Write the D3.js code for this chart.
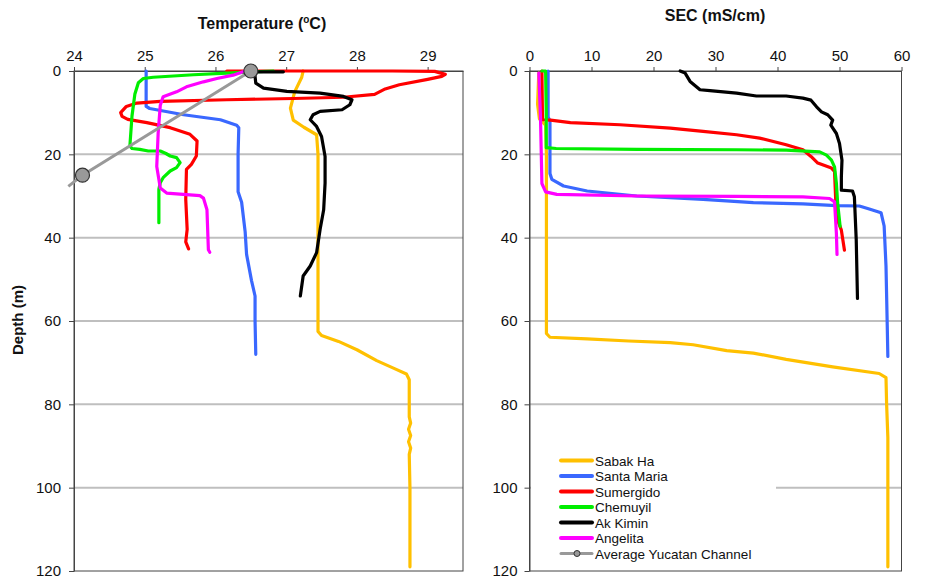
<!DOCTYPE html>
<html>
<head>
<meta charset="utf-8">
<script src="https://cdn.jsdelivr.net/npm/d3@7"></script>
<style>
  html, body { margin: 0; padding: 0; background: #fff; }
  svg { display: block; font-family: "Liberation Sans", Arial, sans-serif; }
</style>
</head>
<body>
<svg id="chart" width="925" height="578"></svg>
<script>
// ---------- DATA ----------
const seriesNames = ["Sabak Ha", "Santa Maria", "Sumergido", "Chemuyil", "Ak Kimin", "Angelita", "Average Yucatan Channel"];
const seriesColors = ["#FFC000", "#3A68FF", "#FF0000", "#00EE00", "#000000", "#FF00FF", "#999999"];

const tempTicks = [24, 25, 26, 27, 28, 29];
const secTicks = [0, 10, 20, 30, 40, 50, 60];
const depthTicks = [0, 20, 40, 60, 80, 100, 120];

// [temperature (°C), depth (m)]
const tempSabakHa = [[27.24,0],[27.22,1.5],[27.12,5],[27.06,8.9],[27.1,11.8],[27.25,13.5],[27.43,15.3],[27.45,20],[27.45,40],[27.45,62.5],[27.5,63.5],[27.74,64.9],[28.0,66.9],[28.28,69.5],[28.54,71.5],[28.7,72.7],[28.74,74.1],[28.74,83],[28.76,84.5],[28.73,86],[28.76,87.5],[28.73,89],[28.76,90.5],[28.74,92],[28.75,100],[28.75,119]];
const tempSantaMaria = [[25.02,0],[25.02,8.5],[25.07,9],[25.55,10.5],[26.07,11.7],[26.3,13],[26.33,13.6],[26.32,20],[26.32,29],[26.37,31.5],[26.42,38.6],[26.44,44],[26.51,50.3],[26.56,54],[26.56,60],[26.57,68]];
const tempSumergido = [[26.16,0],[27.5,0],[28.5,0],[29.1,0.1],[29.25,0.8],[29.2,1.3],[29.0,2],[28.6,3.3],[28.4,4.3],[28.25,5.6],[27.81,6.3],[27.1,6.6],[26.16,6.9],[25.22,7.3],[24.89,7.7],[24.74,8.5],[24.66,10],[24.68,10.9],[24.76,11.6],[25.03,12.4],[25.36,13.6],[25.64,15.2],[25.74,16.8],[25.73,20.4],[25.66,22.4],[25.59,23.6],[25.58,30.8],[25.6,38],[25.58,41],[25.62,42.7]];
const tempChemuyil = [[26.82,0],[26.16,0.5],[25.69,0.9],[25.12,1.5],[24.98,1.8],[24.91,2.8],[24.86,5.6],[24.82,10.8],[24.79,18],[24.82,18.6],[24.93,18.8],[25.05,19.2],[25.22,19.2],[25.3,19.8],[25.36,20.4],[25.45,20.8],[25.5,22],[25.45,23.2],[25.36,24],[25.26,25.6],[25.22,26.8],[25.2,28.4],[25.2,36.4]];
const tempAkKimin = [[26.96,0.2],[26.55,0.2],[26.56,1.3],[26.57,2.9],[26.68,4.1],[27.01,4.9],[27.48,5.3],[27.81,6.1],[27.93,6.9],[27.9,8.1],[27.79,9.3],[27.48,9.7],[27.38,10.5],[27.34,11.7],[27.43,13.3],[27.5,15.7],[27.55,20.5],[27.55,26.9],[27.53,33.3],[27.48,38],[27.43,43.6],[27.34,46.8],[27.24,49.2],[27.2,54]];
const tempAngelita = [[26.42,0],[26.25,1],[26.02,1.8],[25.83,2.6],[25.59,3.8],[25.45,5],[25.26,6.2],[25.22,8.2],[25.19,14.9],[25.17,22.9],[25.22,28.1],[25.31,29.3],[25.78,29.9],[25.83,30.5],[25.88,33.3],[25.9,42.9],[25.92,43.5]];
const tempYucatanLine = [[26.5,0],[24.12,25],[23.92,27.7]];
const tempYucatanMarkers = [[26.5,0],[24.12,25]];

// [SEC (mS/cm), depth (m)]
const secSabakHa = [[1.5,0.5],[1.3,8],[1.6,11.5],[2.6,13],[2.73,20],[2.73,63],[3.3,63.9],[9.3,64.3],[16,64.8],[22.7,65.2],[26.4,65.7],[31.8,67.1],[36.1,67.7],[41.4,69.2],[48.9,71],[56.4,72.6],[57.5,73.6],[57.6,80],[57.8,88],[57.8,119]];
const secSantaMaria = [[3.0,0],[3.0,11],[3.3,12],[3.3,24.6],[3.6,26],[5.5,27.6],[9.3,28.8],[17.3,30],[28,30.8],[36.1,31.6],[44.1,31.9],[49.5,32.3],[53.2,32.4],[54.8,33.1],[56.7,34],[57.2,37.2],[57.5,46.8],[57.7,61],[57.8,68.5]];
const secSumergido = [[2.0,0],[2.1,11.7],[3.4,11.8],[6.6,12.4],[14.6,12.9],[22.7,13.7],[28,14.5],[33.4,15.3],[37.1,16.1],[41.4,17.7],[44.1,18.9],[45.4,20.5],[46.5,22.1],[48.7,23.3],[49.2,24.1],[49.5,35],[50.3,38.2],[50.8,43]];
const secChemuyil = [[2.0,0],[2.6,0],[2.7,10],[2.7,18.4],[4.3,18.6],[17.3,18.8],[33.4,18.9],[41.4,19],[46.8,19.4],[47.9,20.2],[48.7,21.4],[49.2,23],[49.5,27],[49.7,31.7],[50.1,37.3]];
const secAkKimin = [[24.3,0],[25.1,0.5],[25.9,2.5],[27.5,4.5],[29.1,4.7],[33.4,5.3],[36.6,6],[41.4,6],[44.1,6.5],[45.4,7],[46.3,8.6],[47.1,9.8],[48.1,10.5],[48.9,11.8],[48.6,13],[49.5,15],[50,17.4],[50.4,21.4],[50.3,25.4],[50.3,28.6],[52.1,28.8],[52.4,30.2],[52.7,40.6],[52.9,54.6]];
const secAngelita = [[1.5,0.5],[1.77,11],[2.0,27],[2.6,29],[4.4,29.6],[17.3,30],[33.4,30.1],[44.1,30.2],[48.4,30.6],[49.2,31.4],[49.5,39],[49.6,44]];

// ---------- DRAW ----------
const svg = d3.select("#chart");
const yTop = 71, yBottom = 571;

function panel(opts) {
  const x = d3.scaleLinear().domain(opts.xDomain).range(opts.xRange);
  const y = d3.scaleLinear().domain([0, 120]).range([yTop, yBottom]);
  const g = svg.append("g");

  g.selectAll("line.grid").data(depthTicks.filter(d => d > 0 && d < 120)).enter()
    .append("line").attr("class", "grid")
    .attr("x1", opts.xRange[0]).attr("x2", opts.xRange[1])
    .attr("y1", d => y(d)).attr("y2", d => y(d))
    .attr("stroke", "#BFBFBF").attr("stroke-width", 2);

  g.append("rect")
    .attr("x", opts.xRange[0]).attr("y", yTop)
    .attr("width", opts.xRange[1] - opts.xRange[0]).attr("height", yBottom - yTop)
    .attr("fill", "none").attr("stroke", "#444").attr("stroke-width", 1);

  const xAxis = d3.axisTop(x).tickValues(opts.xTicks).tickFormat(d3.format("d"))
    .tickSize(4).tickSizeOuter(0).tickPadding(6);
  const gx = g.append("g").attr("transform", `translate(0,${yTop})`).call(xAxis);
  gx.select(".domain").attr("stroke", "#444");
  gx.selectAll(".tick line").attr("stroke", "#444");
  gx.selectAll("text").attr("font-size", 15).attr("fill", "#111")
    .attr("font-family", "'Liberation Sans', Arial, sans-serif");

  const yAxis = d3.axisLeft(y).tickValues(depthTicks).tickFormat(d3.format("d"))
    .tickSize(5).tickSizeOuter(0).tickPadding(opts.yPad);
  const gy = g.append("g").attr("transform", `translate(${opts.xRange[0]},0)`).call(yAxis);
  gy.select(".domain").attr("stroke", "#444");
  gy.selectAll(".tick line").attr("stroke", "#444");
  gy.selectAll("text").attr("font-size", 15).attr("fill", "#111")
    .attr("font-family", "'Liberation Sans', Arial, sans-serif");

  const title = g.append("text")
    .attr("x", opts.titleX).attr("y", opts.titleY)
    .attr("text-anchor", "middle").attr("font-size", 16).attr("font-weight", "bold").attr("fill", "#111");
  opts.title(title);

  const line = d3.line().x(d => x(d[0])).y(d => y(d[1])).curve(d3.curveLinear);
  opts.series.forEach((s, i) => {
    g.append("path").datum(s).attr("d", line)
      .attr("fill", "none").attr("stroke", seriesColors[i])
      .attr("stroke-width", 3.2).attr("stroke-linejoin", "round").attr("stroke-linecap", "round");
  });
  return { g, x, y, line };
}

const left = panel({
  xDomain: [24, 29.5], xRange: [74, 463], xTicks: tempTicks, yPad: 8,
  titleX: 262, titleY: 29,
  title: t => {
    t.append("tspan").text("Temperature (");
    t.append("tspan").text("o").attr("font-size", 10).attr("dy", -6);
    t.append("tspan").text("C)").attr("dy", 6);
  },
  series: [tempSabakHa, tempSantaMaria, tempSumergido, tempChemuyil, tempAkKimin, tempAngelita]
});
left.g.append("path").datum(tempYucatanLine).attr("d", left.line)
  .attr("fill", "none").attr("stroke", seriesColors[6]).attr("stroke-width", 3);
left.g.selectAll("circle.yuc").data(tempYucatanMarkers).enter().append("circle")
  .attr("cx", d => left.x(d[0])).attr("cy", d => left.y(d[1])).attr("r", 7)
  .attr("fill", "#999").attr("stroke", "#333").attr("stroke-width", 1.2);

const right = panel({
  xDomain: [0, 60], xRange: [529.5, 901.5], xTicks: secTicks, yPad: 7,
  titleX: 715, titleY: 21,
  title: t => t.text("SEC (mS/cm)"),
  series: [secSabakHa, secSantaMaria, secSumergido, secChemuyil, secAkKimin, secAngelita]
});

// legend
const lg = svg.append("g");
lg.append("rect").attr("x", 531).attr("y", 446).attr("width", 245).attr("height", 117).attr("fill", "#fff");
const rowY = d3.scaleLinear().domain([0, 6]).range([460.5, 553.5]);
seriesNames.forEach((name, i) => {
  const yy = rowY(i);
  lg.append("line").attr("x1", 561).attr("x2", 592).attr("y1", yy).attr("y2", yy)
    .attr("stroke", seriesColors[i]).attr("stroke-width", i === 6 ? 3 : 4).attr("stroke-linecap", "round");
  if (i === 6) {
    lg.append("circle").attr("cx", 577).attr("cy", yy).attr("r", 3)
      .attr("fill", "#999").attr("stroke", "#333").attr("stroke-width", 1);
  }
  lg.append("text").attr("x", 595).attr("y", yy + 5).text(name)
    .attr("font-size", 13.5).attr("fill", "#111");
});

svg.append("text")
  .attr("transform", "translate(23,320) rotate(-90)")
  .attr("text-anchor", "middle").attr("font-size", 15).attr("font-weight", "bold").attr("fill", "#111")
  .text("Depth (m)");
</script>
</body>
</html>
